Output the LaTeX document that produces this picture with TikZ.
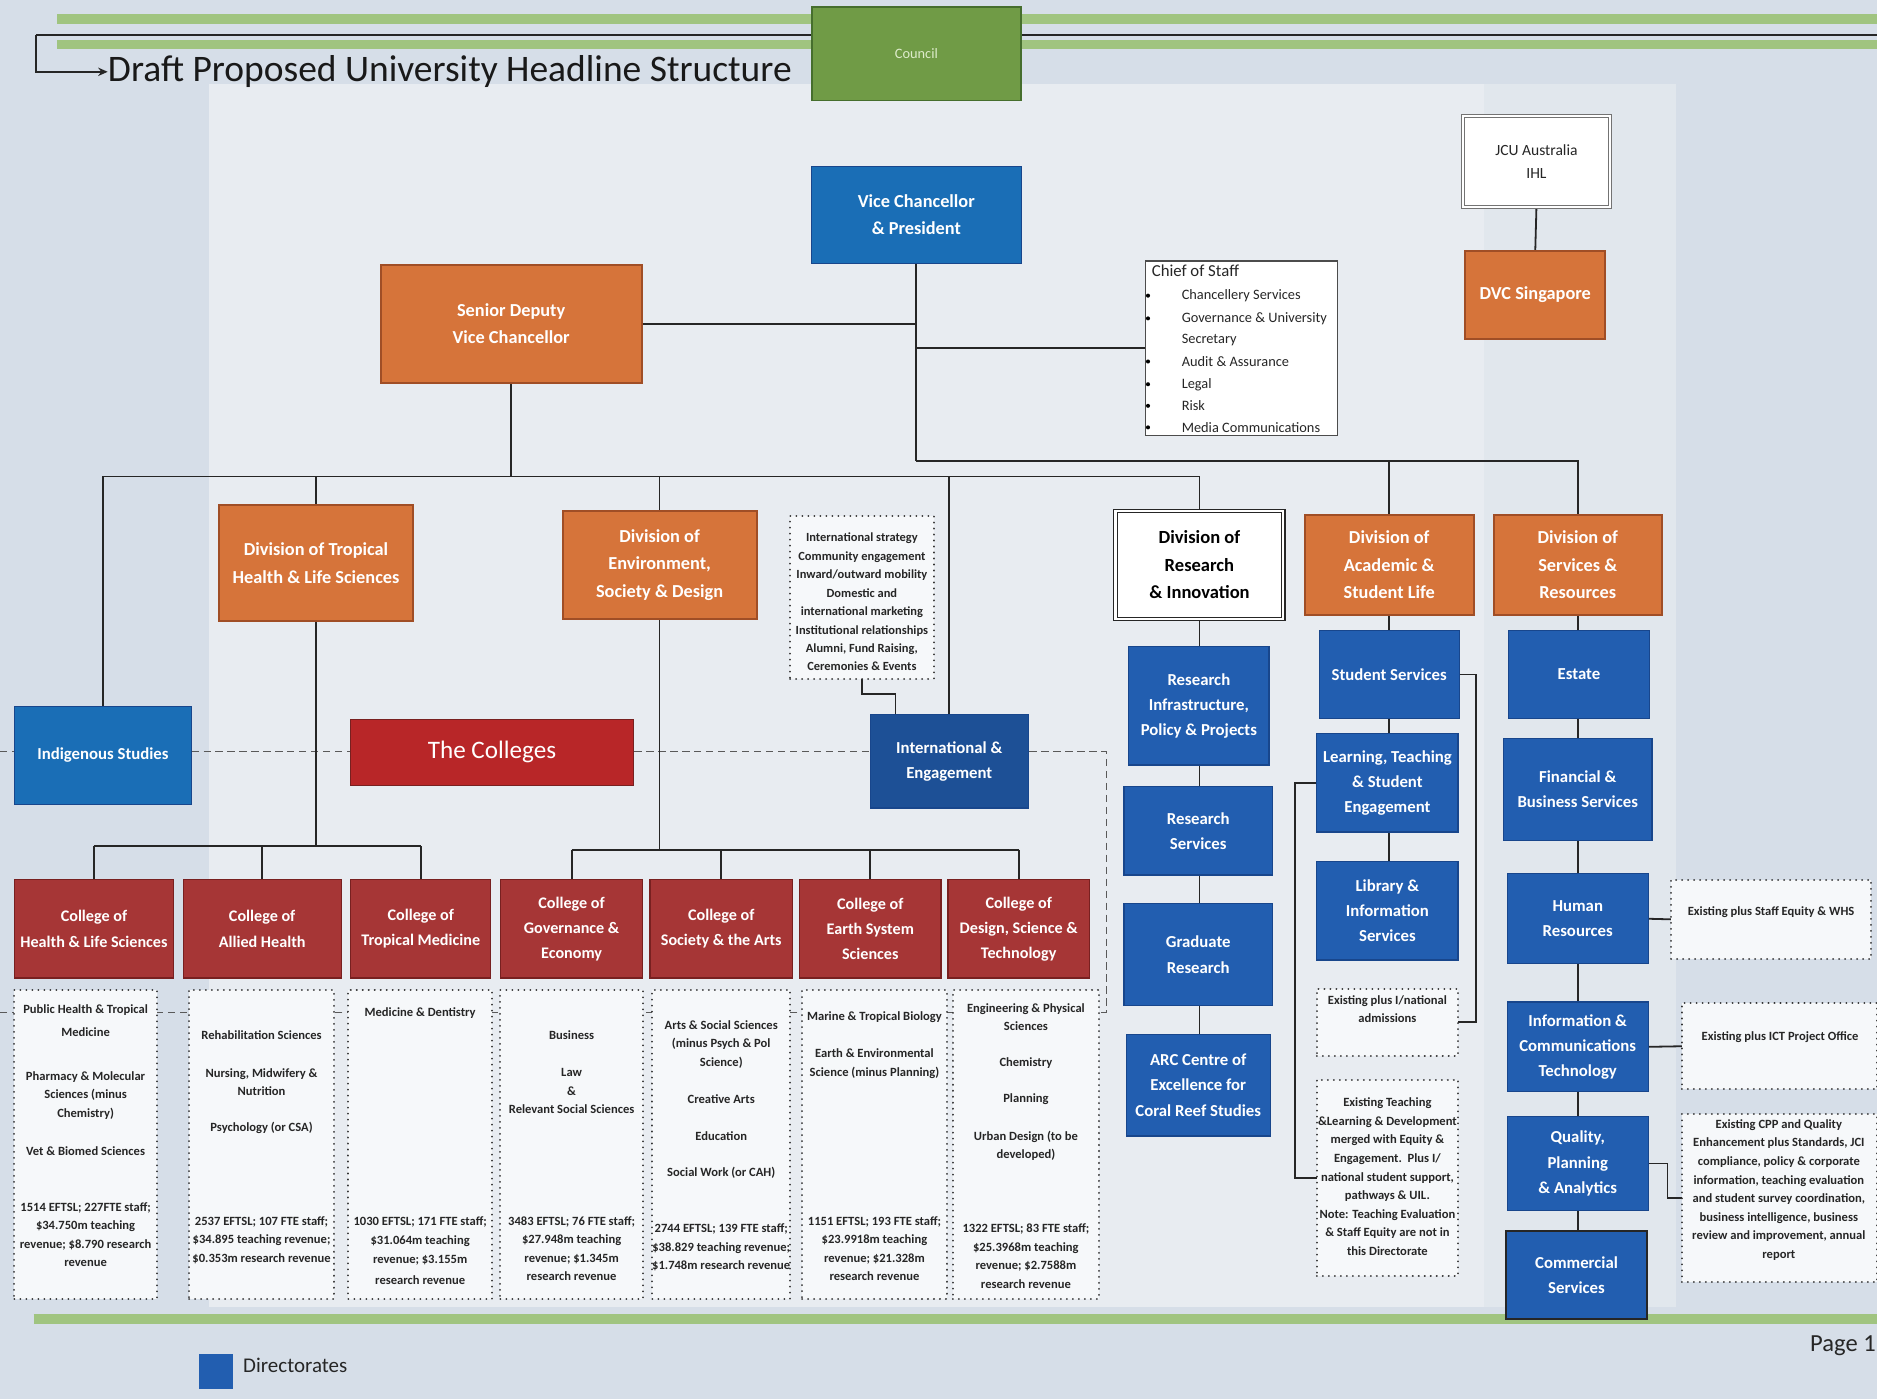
\documentclass[tikz,border=0pt]{standalone}
\usepackage{fontspec}
\setmainfont{Carlito}
\usetikzlibrary{arrows.meta,backgrounds}
\definecolor{bgc}{RGB}{214,222,232}
\definecolor{bglt}{RGB}{232,236,241}
\definecolor{band}{RGB}{160,196,128}
\definecolor{orF}{RGB}{214,116,58}
\definecolor{orD}{RGB}{160,78,38}
\definecolor{blF}{RGB}{34,94,176}
\definecolor{blD}{RGB}{24,70,140}
\definecolor{vcF}{RGB}{26,110,182}
\definecolor{coF}{RGB}{166,54,54}
\definecolor{coD}{RGB}{120,32,32}
\definecolor{tcF}{RGB}{184,38,40}
\definecolor{gnF}{RGB}{112,155,70}
\definecolor{gnD}{RGB}{70,110,45}
\definecolor{gnT}{RGB}{222,236,204}
\definecolor{dotF}{RGB}{246,248,250}
\newcommand\bxfont{\fontsize{15.3}{23}\selectfont\bfseries}
\newcommand\colfont{\fontsize{13.5}{21}\selectfont\bfseries}
\newcommand\dirfont{\fontsize{14}{21}\selectfont\bfseries}
\newcommand\mydfont{\fontsize{10.5}{15.5}\selectfont\bfseries}
\newcommand\bx[6]{\node[#6, minimum width={#4-#2}, minimum height={#5-#3}] (#1) at ({(#2+#4)/2},{(#3+#5)/2})}
\begin{document}
\begin{tikzpicture}[x=1pt,y=-1pt,
  box/.style={rectangle, inner sep=1pt, outer sep=0pt, align=center},
  orangebox/.style={box, fill=orF, draw=orD, line width=1.6pt, text=white, font=\bxfont},
  bluebox/.style={box, fill=blF, draw=blD, line width=1pt, text=white, font=\dirfont},
  vcbox/.style={box, fill=vcF, draw=blD, line width=1pt, text=white, font=\bxfont},
  collbox/.style={box, fill=coF, draw=coD, line width=1pt, text=white, font=\colfont},
  dotbox/.style={rectangle, inner sep=0pt, outer sep=0pt, fill=dotF, draw=black!80, dash pattern=on 0.01pt off 5pt, line cap=round, line width=1.7pt},
  dtext/.style={font=\mydfont, align=center, inner sep=0pt, text=black!85},
  conn/.style={draw=black!85, line width=1.5pt},
  dashconn/.style={draw=black!65, line width=0.9pt, dash pattern=on 6pt off 4pt},
  costext/.style={anchor=west, inner sep=0pt, font=\fontsize{12}{14}\selectfont, text=black!85}]
\useasboundingbox (0,0) rectangle (1568,1169);

% ---------- top ----------
\bx{council}{678}{6}{853}{84}{box, fill=gnF, draw=gnD, line width=1.5pt, text=gnT, font=\fontsize{12}{14}\selectfont}{Council};
\node[anchor=west, inner sep=0pt, font=\fontsize{31.3}{35}\selectfont, text=black!90] (title) at (90,60) {Draft Proposed University Headline Structure};
\coordinate (topleft) at (30,29);
\coordinate (topright) at (1568,29);

\bx{vc}{678}{139}{853}{220}{vcbox}{Vice Chancellor\\\& President};
\bx{sdvc}{318}{221}{536}{320}{orangebox}{Senior Deputy\\Vice Chancellor};
\bx{cos}{957}{218}{1117}{364}{rectangle, fill=white, draw=black!70, line width=1pt}{};
\node[costext, font=\fontsize{14}{16}\selectfont] (cost) at (962,226) {Chief of Staff};
\foreach \t/\yy/\b [count=\i] in {Chancellery Services/247/1, Governance \& University/266/1, Secretary/284/0, Audit \& Assurance/302/1, Legal/321/1, Risk/339/1, Media Communications/357/1}{
  \node[costext] (cosi\i) at (987,\yy) {\t};
  \ifnum\b=1 \fill[black] (959,\yy) circle (1.7); \fi
}
\bx{jcu}{1222}{97}{1345}{173}{box, fill=white, draw=black!55, line width=1.2pt, double=white, double distance=1.2pt, font=\fontsize{13}{20}\selectfont, text=black!85}{JCU Australia\\IHL};
\bx{dvcs}{1224}{210}{1341}{283}{orangebox}{DVC Singapore};

% ---------- divisions ----------
\bx{indig}{12}{590}{160}{672}{box, fill=vcF, draw=blD, line width=1pt, text=white, font=\dirfont}{Indigenous Studies};
\bx{dtrop}{183}{422}{345}{519}{orangebox}{Division of Tropical\\Health \& Life Sciences};
\bx{denv}{470}{427}{632}{517}{orangebox}{Division of\\Environment,\\Society \& Design};
\bx{istr}{660}{431}{780}{567}{dotbox}{};
\node[dtext, font=\fontsize{10.4}{15.4}\selectfont\bfseries] (istrt) at (720,503) {International strategy\\Community engagement\\Inward/outward mobility\\Domestic and\\international marketing\\Institutional relationships\\Alumni, Fund Raising,\\Ceremonies \& Events};
\bx{intl}{727}{597}{859}{675}{box, fill=blF!85!black, draw=blD, line width=1pt, text=white, font=\dirfont}{International \&\\Engagement};
\bx{colls}{293}{601}{529}{656}{box, fill=tcF, draw=coD, line width=0.8pt, text=white, font=\fontsize{21}{24}\selectfont}{The Colleges};

\bx{dres}{932}{427}{1072}{517}{box, fill=white, draw=black!85, line width=0.9pt, double=white, double distance=2pt, text=black, font=\fontsize{15.5}{23}\selectfont\bfseries}{Division of\\Research\\\& Innovation};
\bx{rip}{943}{540}{1060}{639}{bluebox}{Research\\Infrastructure,\\Policy \& Projects};
\bx{rs}{939}{657}{1063}{731}{bluebox}{Research\\Services};
\bx{gr}{939}{755}{1063}{840}{bluebox}{Graduate\\Research};
\bx{arc}{941}{864}{1061}{949}{bluebox}{ARC Centre of\\Excellence for\\Coral Reef Studies};

\bx{dasl}{1090}{430}{1231}{514}{orangebox}{Division of\\Academic \&\\Student Life};
\bx{ss}{1102}{527}{1219}{600}{bluebox}{Student Services};
\bx{lts}{1100}{613}{1218}{695}{bluebox}{Learning, Teaching\\\& Student\\Engagement};
\bx{lib}{1100}{720}{1218}{802}{bluebox}{Library \&\\Information\\Services};
\bx{adm}{1100}{826}{1218}{882}{dotbox}{};
\node[dtext] (admt) at (1159,843) {Existing plus I/national\\admissions};
\bx{ext}{1100}{902}{1218}{1066}{dotbox}{};
\node[dtext] (extt) at (1159,983) {Existing Teaching\\\&Learning \& Development\\merged with Equity \&\\Engagement.\ \ Plus I/\\national student support,\\pathways \& UIL.\\Note: Teaching Evaluation\\\& Staff Equity are not in\\this Directorate};

\bx{dsr}{1248}{430}{1388}{514}{orangebox}{Division of\\Services \&\\Resources};
\bx{est}{1260}{527}{1378}{600}{bluebox}{Estate};
\bx{fbs}{1256}{617}{1380}{702}{bluebox}{Financial \&\\Business Services};
\bx{hr}{1259}{730}{1377}{805}{bluebox}{Human\\Resources};
\bx{ict}{1259}{837}{1377}{912}{bluebox}{Information \&\\Communications\\Technology};
\bx{qpa}{1259}{933}{1377}{1011}{bluebox}{Quality,\\Planning\\\& Analytics};
\bx{comm}{1258}{1028}{1376}{1102}{box, fill=blF, draw=black!85, line width=1.6pt, text=white, font=\dirfont}{Commercial\\Services};
\bx{whs}{1396}{735}{1563}{801}{dotbox}{};
\node[dtext] (whst) at (1479.5,762) {Existing plus Staff Equity \& WHS};
\bx{ictpo}{1405}{838}{1568}{910}{dotbox}{};
\node[dtext] (ictpot) at (1487,866) {Existing plus ICT Project Office};
\bx{cpp}{1405}{931}{1568}{1071}{dotbox}{};
\node[dtext] (cppt) at (1486,994) {Existing CPP and Quality\\Enhancement plus Standards, JCI\\compliance, policy \& corporate\\information, teaching evaluation\\and student survey coordination,\\business intelligence, business\\review and improvement, annual\\report};

% ---------- colleges ----------
\bx{c1}{12}{735}{145}{817}{collbox}{College of\\Health \& Life Sciences};
\bx{c2}{153}{735}{285}{817}{collbox}{College of\\Allied Health};
\bx{c3}{293}{735}{410}{817}{collbox}{College of\\Tropical Medicine};
\bx{c4}{418}{735}{537}{817}{collbox}{College of\\Governance \&\\Economy};
\bx{c5}{543}{735}{662}{817}{collbox}{College of\\Society \& the Arts};
\bx{c6}{668}{735}{786}{817}{collbox}{College of\\Earth System\\Sciences};
\bx{c7}{792}{735}{910}{817}{collbox}{College of\\Design, Science \&\\Technology};

\bx{d1}{12}{827}{131}{1085}{dotbox}{};
\bx{d2}{158}{827}{279}{1085}{dotbox}{};
\bx{d3}{291}{827}{411}{1085}{dotbox}{};
\bx{d4}{418}{827}{537}{1085}{dotbox}{};
\bx{d5}{545}{827}{660}{1085}{dotbox}{};
\bx{d6}{670}{827}{791}{1085}{dotbox}{};
\bx{d7}{796}{827}{918}{1085}{dotbox}{};

\node[dtext] (t1a) at (71.5,852.5) {Public Health \& Tropical\\[3.5pt]Medicine};
\node[dtext] (t1b) at (71.5,915) {Pharmacy \& Molecular\\Sciences (minus\\Chemistry)};
\node[dtext] (t1c) at (71.5,962) {Vet \& Biomed Sciences};
\node[dtext] (t1d) at (71.5,1031.5) {1514 EFTSL; 227FTE staff;\\\$34.750m teaching\\revenue; \$8.790 research\\revenue};

\node[dtext] (t2a) at (218.5,865) {Rehabilitation Sciences};
\node[dtext] (t2b) at (218.5,904) {Nursing, Midwifery \&\\Nutrition};
\node[dtext] (t2c) at (218.5,942) {Psychology (or CSA)};
\node[dtext] (t2d) at (218.5,1036) {2537 EFTSL; 107 FTE staff;\\\$34.895 teaching revenue;\\\$0.353m research revenue};

\node[dtext] (t3a) at (351,846) {Medicine \& Dentistry};
\node[dtext] (t3b) at (351,1045) {1030 EFTSL; 171 FTE staff;\\\$31.064m teaching\\revenue; \$3.155m\\[2.5pt]research revenue};

\node[dtext] (t4a) at (477.5,865) {Business};
\node[dtext] (t4b) at (477.5,911.5) {Law\\\&\\Relevant Social Sciences};
\node[dtext] (t4c) at (477.5,1043) {3483 EFTSL; 76 FTE staff;\\\$27.948m teaching\\revenue; \$1.345m\\research revenue};

\node[dtext] (t5a) at (602.5,872.5) {Arts \& Social Sciences\\(minus Psych \& Pol\\Science)};
\node[dtext] (t5b) at (602.5,918) {Creative Arts};
\node[dtext] (t5c) at (602.5,949) {Education};
\node[dtext] (t5d) at (602.5,980) {Social Work (or CAH)};
\node[dtext] (t5e) at (602.5,1042) {2744 EFTSL; 139 FTE staff;\\\$38.829 teaching revenue;\\\$1.748m research revenue};

\node[dtext] (t6a) at (730.5,850) {Marine \& Tropical Biology};
\node[dtext] (t6b) at (730.5,888.5) {Earth \& Environmental\\Science (minus Planning)};
\node[dtext] (t6c) at (730.5,1043) {1151 EFTSL; 193 FTE staff;\\\$23.9918m teaching\\revenue; \$21.328m\\research revenue};

\node[dtext] (t7a) at (857,849.5) {Engineering \& Physical\\Sciences};
\node[dtext] (t7b) at (857,888) {Chemistry};
\node[dtext] (t7c) at (857,918) {Planning};
\node[dtext] (t7d) at (857,957) {Urban Design (to be\\developed)};
\node[dtext] (t7e) at (857,1049.5) {1322 EFTSL; 83 FTE staff;\\\$25.3968m teaching\\revenue; \$2.7588m\\research revenue};

% ---------- legend / footer ----------
\bx{leg}{166}{1131}{195}{1160}{rectangle, fill=blF, draw=none}{};
\node[anchor=west, inner sep=0pt, font=\fontsize{17.5}{20}\selectfont, text=black!85] (legt) at (203,1141) {Directorates};
\node[anchor=west, inner sep=0pt, font=\fontsize{20.5}{23}\selectfont, text=black!85] (page) at (1512,1124) {Page 1};

% ---------- background layer ----------
\begin{pgfonlayer}{background}
\fill[bgc] (0,0) rectangle (1568,1169);
\fill[bglt] (175,70) rectangle (1240,1092);
\fill[bglt!60!bgc] (1240,70) rectangle (1400,1092);
\draw[band, line width=8pt] (48,16) -- (1568,16);
\draw[band, line width=8pt] (48,37) -- (1568,37);
\draw[band, line width=8pt] (28,1102) -- (1568,1102);
\draw[conn] (topleft) -- (topright);
\draw[conn, -{Stealth[length=8pt,width=7pt]}] (topleft) |- (title.west);

% dashed
\draw[dashconn] (0,628) -- (924,628) -- (924,846) -- (0,846);

% VC bus
\coordinate (busA) at (765,385);
\coordinate (busB) at (86,398);
\draw[conn] (vc.south) -- (vc.south |- busA);
\draw[conn] (vc.south |- busA) -| (dasl.north);
\draw[conn] (vc.south |- busA) -| (dsr.north);
\draw[conn] (sdvc.east) -- (sdvc.east -| vc.south);
\draw[conn] (cos.west) -- (cos.west -| vc.south);
\draw[conn] (jcu.south) -- (dvcs.north);

% SDVC bus
\draw[conn] (sdvc.south) -- (sdvc.south |- busB);
\draw[conn] (indig.north |- busB) -- (dres.north |- busB);
\draw[conn] (indig.north |- busB) -- (indig.north);
\draw[conn] (dtrop.north |- busB) -- (dtrop.north);
\draw[conn] (denv.north |- busB) -- (denv.north);
\draw[conn] (intl.north |- busB) -- (intl.north);
\draw[conn] (dres.north |- busB) -- (dres.north);
\draw[conn] (istr.south) -- ++(0,13) -| ([xshift=-45pt]intl.north);

% colleges
\coordinate (busC) at (79,707);
\coordinate (busD) at (478,710);
\draw[conn] (dtrop.south) -- (dtrop.south |- busC);
\draw[conn] (c1.north |- busC) -- (c3.north |- busC);
\foreach \c in {c1,c2,c3} \draw[conn] (\c.north |- busC) -- (\c.north);
\draw[conn] (denv.south) -- (denv.south |- busD);
\draw[conn] (c4.north |- busD) -- (c7.north |- busD);
\foreach \c in {c4,c5,c6,c7} \draw[conn] (\c.north |- busD) -- (\c.north);

% research column
\draw[conn] (dres.south) -- (dres.south |- arc.north);
% academic column
\draw[conn] (dasl.south) -- (dasl.south |- lib.north);
\draw[conn] (ss.east) -- ++(14,0) |- (adm.east);
\draw[conn] (lts.west) -- ++(-18,0) |- (ext.west);
% services column
\draw[conn] (dsr.south) -- (dsr.south |- comm.north);
\draw[conn] (hr.east) -- (whs.west);
\draw[conn] (ict.east) -- (ictpo.west);
\draw[conn] (qpa.east) -- ++(16,0) |- (cpp.west);
\end{pgfonlayer}
\end{tikzpicture}
\end{document}
